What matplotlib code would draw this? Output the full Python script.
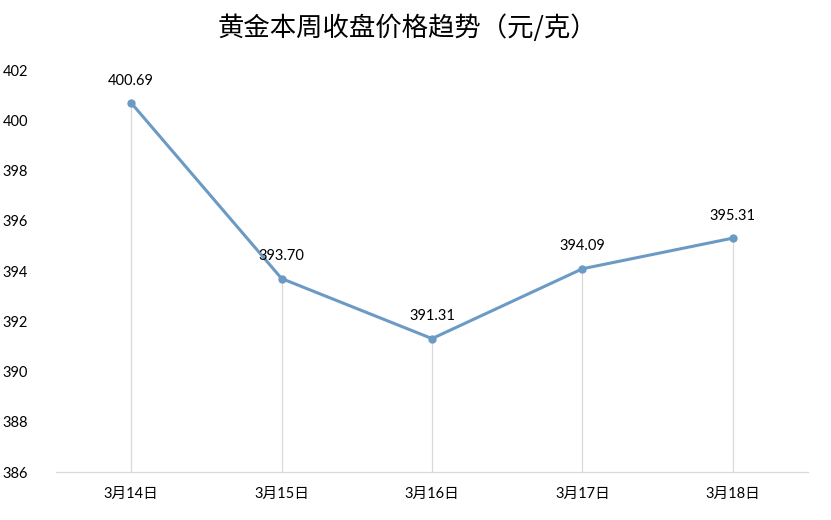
import matplotlib
matplotlib.use("Agg")
import matplotlib.pyplot as plt

dates = ['3月14日', '3月15日', '3月16日', '3月17日', '3月18日']
prices = [400.69, 393.70, 391.31, 394.09, 395.31]
yticks = [386, 388, 390, 392, 394, 396, 398, 400, 402]

plt.rcParams['font.family'] = ['Lato', 'Noto Sans CJK SC', 'DejaVu Sans']

fig = plt.figure(figsize=(8.31, 5.2), dpi=100)
ax = fig.add_axes([0.0674, 0.0923, 0.905, 0.773])

x = list(range(len(dates)))
line_color = '#6b9bc4'

# drop lines from each point to the axis
ax.vlines(x, 386, prices, colors='#d9d9d9', linewidth=0.9, zorder=1)
ax.plot(x, prices, color=line_color, linewidth=2.2, marker='o', markersize=5, zorder=3)

for xi, p in zip(x, prices):
    ax.annotate(f'{p:.2f}', (xi, p), xytext=(0, 11), textcoords='offset points',
                ha='center', va='bottom', fontsize=10.5, color='#000000')

ax.set_xlim(-0.5, 4.5)
ax.set_ylim(386, 402)
ax.set_yticks(yticks)
ax.set_xticks(x)
ax.set_xticklabels(dates, fontsize=10.5)
ax.tick_params(axis='y', length=0, pad=20, labelsize=10.5)
ax.tick_params(axis='x', length=0, pad=11)

for side in ['left', 'right', 'top']:
    ax.spines[side].set_visible(False)
ax.spines['bottom'].set_color('#d9d9d9')
ax.spines['bottom'].set_linewidth(0.9)

fig.text(0.49, 0.945, '黄金本周收盘价格趋势（元/克）', ha='center', va='center',
         fontsize=19, family=['Noto Sans CJK SC', 'DejaVu Sans'], color='#000000')

fig.savefig('out.png', dpi=100)
